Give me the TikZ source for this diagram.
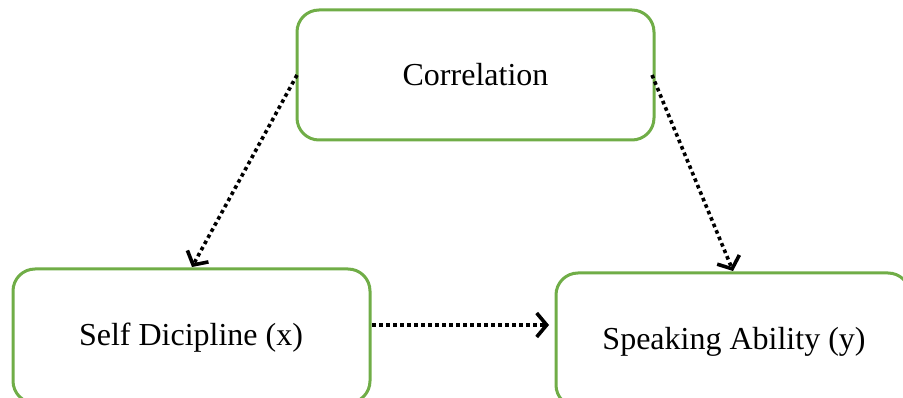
\documentclass[tikz,border=0pt]{standalone}
\usepackage{fontspec}
\setmainfont{Liberation Serif}
\usetikzlibrary{arrows.meta}
\definecolor{boxgreen}{RGB}{112,173,71}
\tikzset{
  box/.style={draw=boxgreen, line width=3pt, rounded corners=22pt, fill=white,
    minimum width=#1, inner sep=0pt},
  lbl/.style={font=\fontsize{32}{38}\selectfont},
  dotarrow/.style={line width=3.6pt, dash pattern=on 3.6pt off 3.4pt,
    -{Straight Barb[length=10pt,width=24pt,line width=3.6pt]}}
}
\begin{document}
\begin{tikzpicture}[x=1pt,y=-1pt]
\useasboundingbox (0,0) rectangle (903,398);
\begin{scope}
\clip (0,0) rectangle (903,398);
\node[box=357pt, minimum height=130pt, lbl] (corr) at (475.5,75) {Correlation};
\node[box=357pt, minimum height=134pt] (self) at (191.5,336) {};
\node[box=354pt, minimum height=134pt] (speak) at (733,340) {};
\node[lbl] (selft) at (191,338) {Self Dicipline (x)};
\node[lbl] (speakt) at (734,342) {Speaking Ability (y)};
\coordinate (a1) at (297,75);
\coordinate (a2) at (192,267);
\coordinate (b1) at (652,75);
\coordinate (b2) at (733,271);
\coordinate (c1) at (372,325);
\coordinate (c2) at (549,325);
\draw[dotarrow] (a1) -- (a2);
\draw[dotarrow] (b1) -- (b2);
\draw[dotarrow] (c1) -- (c2);
\end{scope}
\end{tikzpicture}
\end{document}
